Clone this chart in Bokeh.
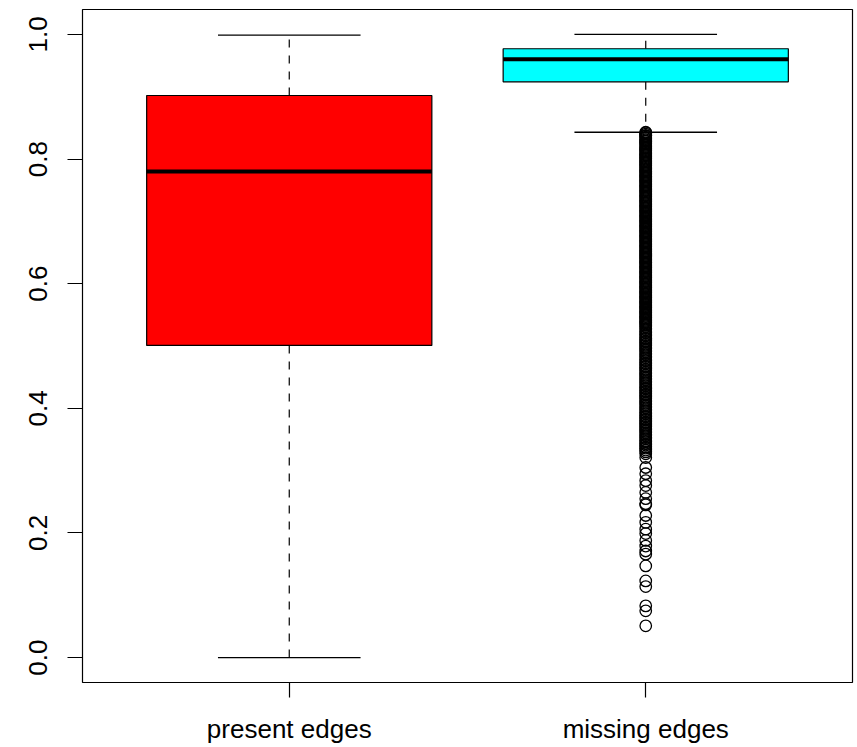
from bokeh.plotting import figure
from bokeh.models import ColumnDataSource, Range1d, FixedTicker, PrintfTickFormatter
from bokeh.embed import file_html
from bokeh.resources import INLINE

# ---- data ----
categories = ["present edges", "missing edges"]
positions = [1, 2]
lower_whisker = [0.000, 0.843]
q1 = [0.501, 0.924]
median = [0.780, 0.960]
q3 = [0.902, 0.977]
upper_whisker = [0.999, 1.000]
box_colors = ["#FF0000", "#00FFFF"]

# outliers of "missing edges" (very dense near the lower whisker)
outliers_dense = [0.843, 0.842, 0.840, 0.838, 0.837, 0.835, 0.833, 0.831, 0.829, 0.828,
                  0.826, 0.824, 0.822, 0.820, 0.818, 0.817, 0.815, 0.813, 0.811, 0.809,
                  0.807, 0.806, 0.804, 0.802, 0.800, 0.798, 0.796, 0.795, 0.793, 0.791,
                  0.789, 0.787, 0.785, 0.783, 0.781, 0.779, 0.777, 0.775, 0.773, 0.771,
                  0.769, 0.767, 0.765, 0.763, 0.761, 0.759, 0.757, 0.755, 0.753, 0.751,
                  0.749, 0.747, 0.745, 0.743, 0.741, 0.739, 0.737, 0.735, 0.733, 0.731,
                  0.729, 0.727, 0.725, 0.723, 0.721, 0.719, 0.717, 0.715, 0.713, 0.711,
                  0.709, 0.707, 0.705, 0.703, 0.701, 0.699, 0.697, 0.695, 0.693, 0.691,
                  0.689, 0.687, 0.685, 0.683, 0.681, 0.679, 0.677, 0.675, 0.673, 0.671,
                  0.669, 0.667, 0.665, 0.663, 0.661, 0.659, 0.657, 0.655, 0.653, 0.651,
                  0.649, 0.647, 0.645, 0.643, 0.641, 0.639, 0.637, 0.635, 0.633, 0.631,
                  0.629, 0.627, 0.625, 0.623, 0.621, 0.619, 0.617, 0.615, 0.613, 0.611,
                  0.609, 0.607, 0.605, 0.603, 0.601, 0.599, 0.597, 0.595, 0.593, 0.591,
                  0.589, 0.587, 0.585, 0.583, 0.581, 0.579, 0.577, 0.575, 0.573, 0.571,
                  0.569, 0.567, 0.565, 0.563, 0.561, 0.559, 0.557, 0.555, 0.553, 0.551,
                  0.549, 0.547, 0.545, 0.543, 0.541, 0.539, 0.537, 0.535, 0.533, 0.531]
outliers_mid = [0.528, 0.526, 0.523, 0.521, 0.518, 0.516, 0.513, 0.511, 0.508, 0.506,
                0.503, 0.501, 0.498, 0.496, 0.493, 0.491, 0.488, 0.486, 0.483, 0.481,
                0.478, 0.476, 0.473, 0.471, 0.468, 0.466, 0.463, 0.461, 0.458, 0.456,
                0.453, 0.451, 0.448, 0.446, 0.443, 0.441, 0.438, 0.436, 0.433, 0.431,
                0.428, 0.426, 0.423, 0.421, 0.418, 0.416, 0.413, 0.411, 0.408, 0.406,
                0.403, 0.401, 0.398, 0.396, 0.393, 0.391, 0.388, 0.386, 0.383, 0.381,
                0.378, 0.376, 0.373, 0.371, 0.368, 0.366, 0.363, 0.361, 0.358, 0.356,
                0.353, 0.351, 0.348, 0.346, 0.343, 0.341, 0.338, 0.336, 0.333, 0.330, 0.327]
outliers_sparse = [0.321, 0.305, 0.295, 0.284, 0.276, 0.265, 0.255, 0.247, 0.245, 0.228,
                   0.217, 0.206, 0.199, 0.188, 0.179, 0.171, 0.166, 0.147, 0.123, 0.114,
                   0.083, 0.075, 0.051]
outlier_group = 2

y_ticks = [0.0, 0.2, 0.4, 0.6, 0.8, 1.0]

# ---- derived geometry ----
box_width = 0.8
staple_width = 0.4
src = ColumnDataSource(dict(
    x=positions,
    left=[x - box_width / 2 for x in positions],
    right=[x + box_width / 2 for x in positions],
    sl=[x - staple_width / 2 for x in positions],
    sr=[x + staple_width / 2 for x in positions],
    lw=lower_whisker, q1=q1, med=median, q3=q3, uw=upper_whisker,
    color=box_colors,
))

FONT = "Liberation Sans"

p = figure(width=857, height=747, output_backend="svg", toolbar_location=None,
           x_range=Range1d(0.42, 2.58), y_range=Range1d(-0.04, 1.04),
           min_border_left=82, min_border_right=5, min_border_top=9, min_border_bottom=65)
p.xgrid.visible = False
p.ygrid.visible = False
p.background_fill_color = "white"
p.border_fill_color = "white"
p.outline_line_color = "black"
p.outline_line_width = 1.2
p.outline_line_alpha = 1.0

# whiskers (dashed)
p.segment(x0="x", y0="q3", x1="x", y1="uw", source=src, line_color="black",
          line_width=1.2, line_dash="8 8")
p.segment(x0="x", y0="q1", x1="x", y1="lw", source=src, line_color="black",
          line_width=1.2, line_dash="8 8")
# staples
p.segment(x0="sl", y0="uw", x1="sr", y1="uw", source=src, line_color="black", line_width=1.3)
p.segment(x0="sl", y0="lw", x1="sr", y1="lw", source=src, line_color="black", line_width=1.3)
# boxes
p.quad(left="left", right="right", bottom="q1", top="q3", source=src,
       fill_color="color", line_color="black", line_width=1.2)
# medians
p.segment(x0="left", y0="med", x1="right", y1="med", source=src, line_color="black",
          line_width=4)

# outliers
all_out = outliers_dense + outliers_mid + outliers_sparse
p.scatter(x=[outlier_group] * len(all_out), y=all_out, marker="circle", size=11.5,
          fill_color=None, line_color="black", line_width=1.3)

# axes
p.xaxis.ticker = FixedTicker(ticks=positions)
p.xaxis.major_label_overrides = {pos: lab for pos, lab in zip(positions, categories)}
p.yaxis.ticker = FixedTicker(ticks=y_ticks)
p.yaxis.formatter = PrintfTickFormatter(format="%.1f")
p.yaxis.major_label_orientation = "vertical"
for ax in (p.xaxis[0], p.yaxis[0]):
    ax.axis_line_color = None
    ax.major_tick_line_color = "black"
    ax.major_tick_line_width = 1.2
    ax.major_tick_out = 15
    ax.major_tick_in = 0
    ax.minor_tick_line_color = None
    ax.major_label_text_font = FONT
    ax.major_label_text_font_size = "26px"
    ax.major_label_text_color = "black"
p.xaxis.major_label_standoff = 16
p.yaxis.major_label_standoff = 20

open("out.html", "w").write(file_html(p, INLINE))
